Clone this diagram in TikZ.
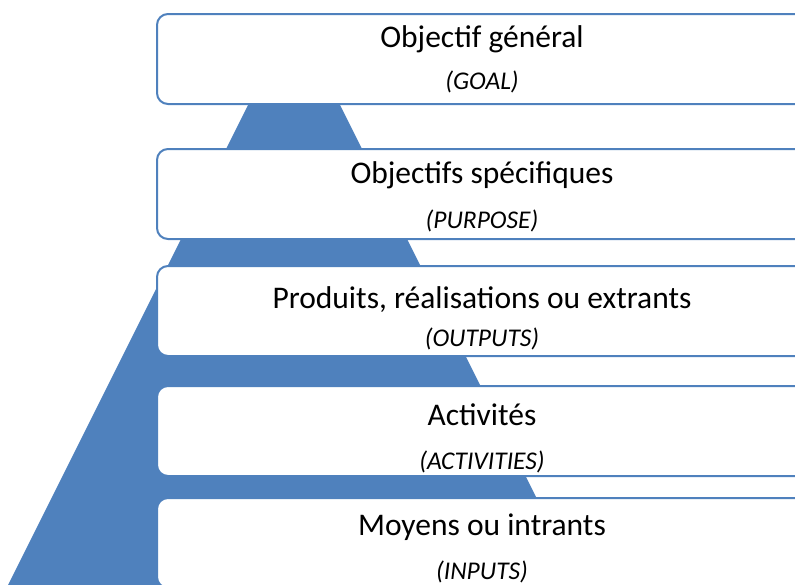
\documentclass[tikz,border=0pt]{standalone}
\usepackage{fontspec}
\setmainfont{Carlito}
\usepackage{xcolor}
\usetikzlibrary{positioning}
\definecolor{pyrblue}{RGB}{79,129,189}

\begin{document}
\begin{tikzpicture}[x=1pt, y=-1pt,
	level/.style={draw=pyrblue, line width=2pt, fill=white, rounded corners=11pt, minimum width=650pt, minimum height=90pt, inner sep=0pt, anchor=north west},
	title/.style={font=\fontsize{31.5}{37}\selectfont, anchor=base, inner sep=0pt},
	subtitle/.style={font=\fontsize{25.5}{30}\selectfont\itshape, anchor=base, inner sep=0pt}]
	\clip (0,0) rectangle (795,584);

	% pyramid behind the boxes
	\fill [pyrblue] (294,13) -- (0.5,600) -- (587.5,600) -- cycle;

	\node [level] (goal) at (156,13) {};
	\node [level] (purpose) at (156,148) {};
	\node [level] (outputs) at (156,265) {};
	\node [level] (activities) at (156,385) {};
	\node [level] (inputs) at (156,497) {};

	\node [title] (goal-t) at ([yshift=-34pt]goal.north) {Objectif général};
	\node [subtitle] (goal-s) at ([yshift=-76pt]goal.north) {(GOAL)};
	\node [title] (purpose-t) at ([yshift=-35pt]purpose.north) {Objectifs spécifiques};
	\node [subtitle] (purpose-s) at ([yshift=-80pt]purpose.north) {(PURPOSE)};
	\node [title] (outputs-t) at ([yshift=-43pt]outputs.north) {Produits, réalisations ou extrants};
	\node [subtitle] (outputs-s) at ([yshift=-81pt]outputs.north) {(OUTPUTS)};
	\node [title] (activities-t) at ([yshift=-40pt]activities.north) {Activités};
	\node [subtitle] (activities-s) at ([yshift=-84pt]activities.north) {(ACTIVITIES)};
	\node [title] (inputs-t) at ([yshift=-38pt]inputs.north) {Moyens ou intrants};
	\node [subtitle] (inputs-s) at ([yshift=-82pt]inputs.north) {(INPUTS)};
\end{tikzpicture}
\end{document}
